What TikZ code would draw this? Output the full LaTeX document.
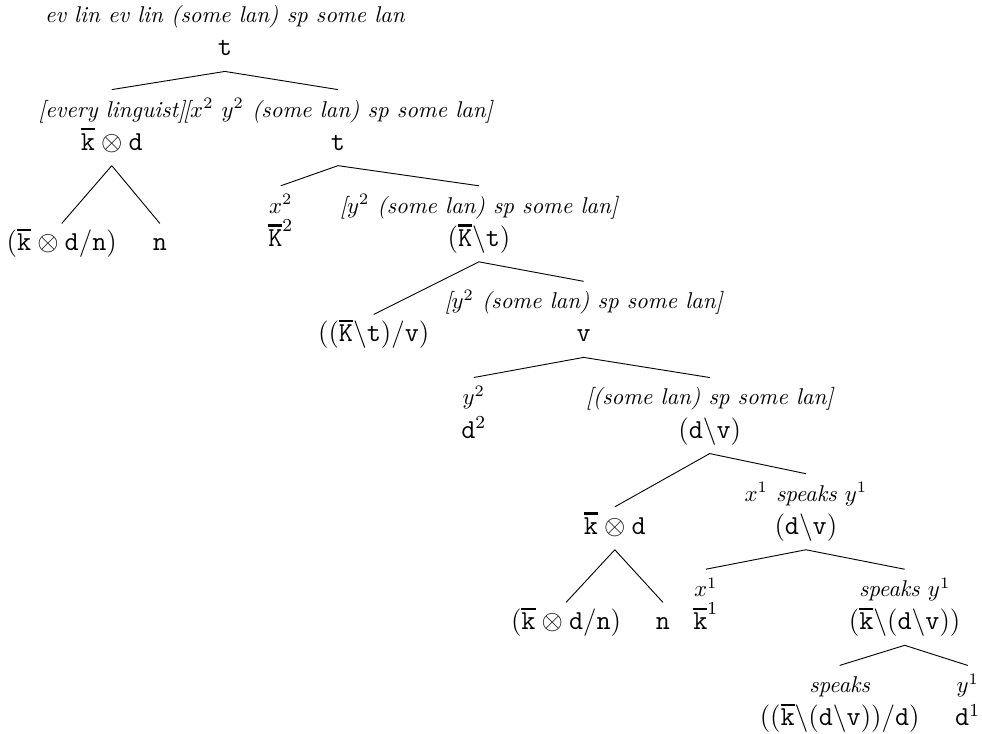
\documentclass[tikz,border=0pt]{standalone}
\usepackage{amsmath,amssymb,tikz}

\newcommand{\tbar}[1]{\vbox{\hrule height 1.1pt\kern 1.3pt\hbox{$\mathtt{#1}$}}}
\newcommand{\kb}{\tbar{k}}
\newcommand{\Kb}{\tbar{K}}
\newcommand{\dv}{(\mathtt{d}\backslash\mathtt{v})}

\tikzset{
  form/.style={anchor=base, font=\large, inner sep=3.6pt, text height=8.2pt, text depth=3pt},
  lab/.style={anchor=base, font=\itshape, inner sep=3.6pt, text height=8.2pt},
}

\begin{document}
\begin{tikzpicture}
  \useasboundingbox (0,0) rectangle (15.11,-11.28);

  % Root
  \node[form] (t0) at (3.46,-0.86) {$\mathtt{t}$};
  \node[lab] (t0l) at ([yshift=14.5pt]t0.base) {ev lin ev lin (some lan) sp some lan};

  % Quantifier and scope
  \node[form] (kd1) at (1.72,-2.31) {$\kb\otimes\mathtt{d}$};
  \node[lab] (kd1l) at ([yshift=14.5pt]kd1.base) {[every linguist]};
  \node[form] (t1) at (5.20,-2.31) {$\mathtt{t}$};
  \node[lab] (t1l) at ([yshift=14.5pt]t1.base) {[$x^2$ $y^2$ (some lan) sp some lan]};

  \node[form] (kdn1) at (0.95,-3.86) {$(\kb\otimes\mathtt{d}/\mathtt{n})$};
  \node[form] (n1) at (2.46,-3.86) {$\mathtt{n}$};
  \node[form] (K2) at (4.32,-3.79) {$\Kb^2$};
  \node[lab] (K2l) at ([yshift=14.5pt]K2.base) {$x^2$};
  \node[form] (Kt) at (7.37,-3.79) {$(\Kb\backslash\mathtt{t})$};
  \node[lab] (Ktl) at ([yshift=14.5pt]Kt.base) {[$y^2$ (some lan) sp some lan]};

  \node[form] (Ktv) at (5.75,-5.26) {$((\Kb\backslash\mathtt{t})/\mathtt{v})$};
  \node[form] (v1) at (8.98,-5.26) {$\mathtt{v}$};
  \node[lab] (v1l) at ([yshift=14.5pt]v1.base) {[$y^2$ (some lan) sp some lan]};

  \node[form] (d2) at (7.29,-6.74) {$\mathtt{d}^2$};
  \node[lab] (d2l) at ([yshift=14.5pt]d2.base) {$y^2$};
  \node[form] (dv1) at (10.92,-6.74) {$\dv$};
  \node[lab] (dv1l) at ([yshift=14.5pt]dv1.base) {[(some lan) sp some lan]};

  % Inner quantifier
  \node[form] (kd2) at (9.46,-8.22) {$\kb\otimes\mathtt{d}$};
  \node[form] (dv2) at (12.40,-8.22) {$\dv$};
  \node[lab] (dv2l) at ([yshift=14.5pt]dv2.base) {$x^1$ speaks $y^1$};

  \node[form] (kdn2) at (8.71,-9.69) {$(\kb\otimes\mathtt{d}/\mathtt{n})$};
  \node[form] (n2) at (10.20,-9.69) {$\mathtt{n}$};
  \node[form] (k1) at (10.86,-9.69) {$\kb^1$};
  \node[lab] (k1l) at ([yshift=14.5pt]k1.base) {$x^1$};
  \node[form] (kdv) at (13.92,-9.69) {$(\kb\backslash\dv)$};
  \node[lab] (kdvl) at ([yshift=14.5pt]kdv.base) {speaks $y^1$};

  % Verb and object
  \node[form] (kdvd) at (12.92,-11.17) {$((\kb\backslash\dv)/\mathtt{d})$};
  \node[lab] (kdvdl) at ([yshift=14.5pt]kdvd.base) {speaks};
  \node[form] (d1) at (14.89,-11.17) {$\mathtt{d}^1$};
  \node[lab] (d1l) at ([yshift=14.5pt]d1.base) {$y^1$};

  % Branches
  \draw (t0.south) -- (kd1l.north) (t0.south) -- (t1l.north);
  \draw (kd1.south) -- (kdn1.north) (kd1.south) -- (n1.north);
  \draw (t1.south) -- (K2l.north) (t1.south) -- (Ktl.north);
  \draw (Kt.south) -- (Ktv.north) (Kt.south) -- (v1l.north);
  \draw (v1.south) -- (d2l.north) (v1.south) -- (dv1l.north);
  \draw (dv1.south) -- (kd2.north) (dv1.south) -- (dv2l.north);
  \draw (kd2.south) -- (kdn2.north) (kd2.south) -- (n2.north);
  \draw (dv2.south) -- (k1l.north) (dv2.south) -- (kdvl.north);
  \draw (kdv.south) -- (kdvdl.north) (kdv.south) -- (d1l.north);
\end{tikzpicture}
\end{document}
